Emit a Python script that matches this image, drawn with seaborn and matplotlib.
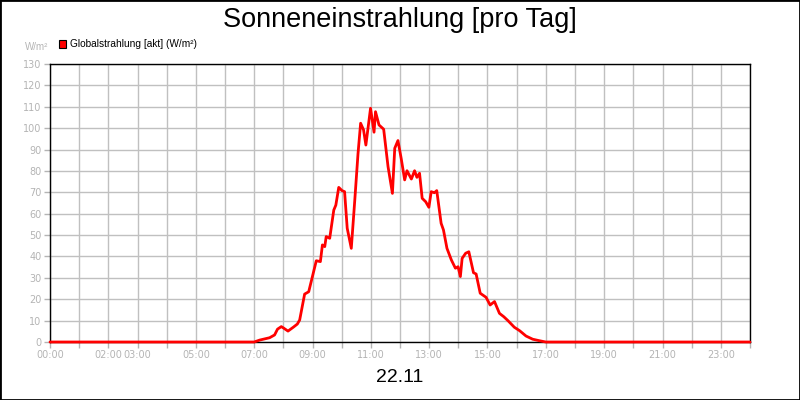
import matplotlib
matplotlib.use("Agg")
import matplotlib.pyplot as plt
from matplotlib.patches import Patch, Rectangle
import seaborn as sns
import pandas as pd

# ---- data (hours of day, W/m²) ----
hours = [0.0, 7.0, 7.19, 7.53, 7.7, 7.8, 7.93, 8.0, 8.16, 8.35, 8.48, 8.56,
         8.73, 8.87, 9.13, 9.27, 9.34, 9.42, 9.47, 9.59, 9.73, 9.8, 9.9, 10.01,
         10.1, 10.19, 10.33, 10.45, 10.56, 10.65, 10.75, 10.83, 10.99, 11.11,
         11.16, 11.28, 11.44, 11.59, 11.74, 11.82, 11.93, 12.04, 12.16, 12.24,
         12.39, 12.5, 12.58, 12.67, 12.76, 12.88, 12.99, 13.07, 13.18, 13.26,
         13.41, 13.49, 13.61, 13.76, 13.9, 13.99, 14.07, 14.13, 14.25, 14.36,
         14.52, 14.61, 14.75, 14.95, 15.09, 15.24, 15.41, 15.56, 15.7, 15.92,
         16.1, 16.32, 16.55, 16.78, 17.0, 24.0]
values = [0, 0, 0.9, 2.0, 3.3, 6.0, 7.2, 6.6, 5.1, 7.0, 8.4, 10.3,
          22.4, 23.5, 38.0, 37.6, 45.4, 44.6, 49.3, 48.5, 61.7, 64.0, 72.3, 70.8,
          70.3, 53.2, 43.8, 66.4, 88.0, 102.3, 99.2, 92.1, 109.3, 98.1,
          107.7, 101.5, 99.5, 82.0, 69.5, 90.6, 94.2, 85.9, 75.8, 80.1,
          76.2, 80.1, 77.0, 78.9, 67.2, 65.6, 63.0, 70.3, 69.8, 70.8,
          55.5, 52.4, 43.8, 38.4, 34.5, 35.2, 30.6, 39.1, 41.5, 42.2,
          32.4, 31.8, 22.8, 20.9, 17.3, 18.9, 13.4, 11.8, 10.0, 6.9,
          5.3, 2.8, 1.3, 0.6, 0, 0]

x_tick_hours = list(range(0, 25))
x_label_map = {0: "00:00", 2: "02:00", 3: "03:00", 5: "05:00", 7: "07:00",
               9: "09:00", 11: "11:00", 13: "13:00", 15: "15:00",
               17: "17:00", 19: "19:00", 21: "21:00", 23: "23:00"}
y_ticks = list(range(0, 131, 10))

title = "Sonneneinstrahlung [pro Tag]"
series_label = "Globalstrahlung [akt] (W/m²)"
unit_label = "W/m²"
date_label = "22.11"

df = pd.DataFrame({"hour": hours, "value": values})

sns.set_style("white")
plt.rcParams["font.family"] = ["DejaVu Sans"]

fig = plt.figure(figsize=(8, 4), dpi=100)
fig.patch.set_facecolor("white")
ax = fig.add_axes([50 / 800, 58 / 400, 700 / 800, 278 / 400])

sns.lineplot(data=df, x="hour", y="value", ax=ax, color="#ff0000",
             linewidth=2, clip_on=False, zorder=5, legend=False)

ax.set_xlim(0, 24)
ax.set_ylim(0, 130)
ax.set_xticks(x_tick_hours)
ax.set_xticklabels([x_label_map.get(h, "") for h in x_tick_hours])
ax.set_yticks(y_ticks)
ax.set_yticklabels([str(v) for v in y_ticks])
ax.grid(True, color="#c0c0c0", linewidth=1)
ax.set_axisbelow(True)
ax.tick_params(axis="both", colors="#b4b4b4", labelcolor="#b4b4b4",
               labelsize=7, length=4, width=1, direction="out", pad=2)
ax.tick_params(left=True, bottom=True)
for s in ax.spines.values():
    s.set_color("black")
    s.set_linewidth(1)
    s.set_visible(True)
ax.set_xlabel("")
ax.set_ylabel("")

fig.text(0.5, 1 - 20 / 400, title, ha="center", va="center",
         fontsize=19.5, family="Liberation Sans", color="black")
fig.text(0.5, 1 - 378 / 400, date_label, ha="center", va="center",
         fontsize=14, family="Liberation Sans", color="black")
fig.text(48 / 800, 1 - 47 / 400, unit_label, ha="right", va="center",
         fontsize=7, family="Liberation Sans", color="#b4b4b4")

# legend square + text
fig.patches.append(Rectangle((58.5 / 800, 1 - 48 / 400), 7 / 800, 8 / 400,
                             transform=fig.transFigure, facecolor="#ff0000",
                             edgecolor="black", linewidth=0.8))
fig.text(70 / 800, 1 - 44 / 400, series_label, ha="left", va="center",
         fontsize=7.3, family="Liberation Sans", color="black")

# outer border
fig.patches.append(Rectangle((0, 0), 1, 1, transform=fig.transFigure,
                             fill=False, edgecolor="black", linewidth=2))

fig.savefig("out.png", dpi=100)
